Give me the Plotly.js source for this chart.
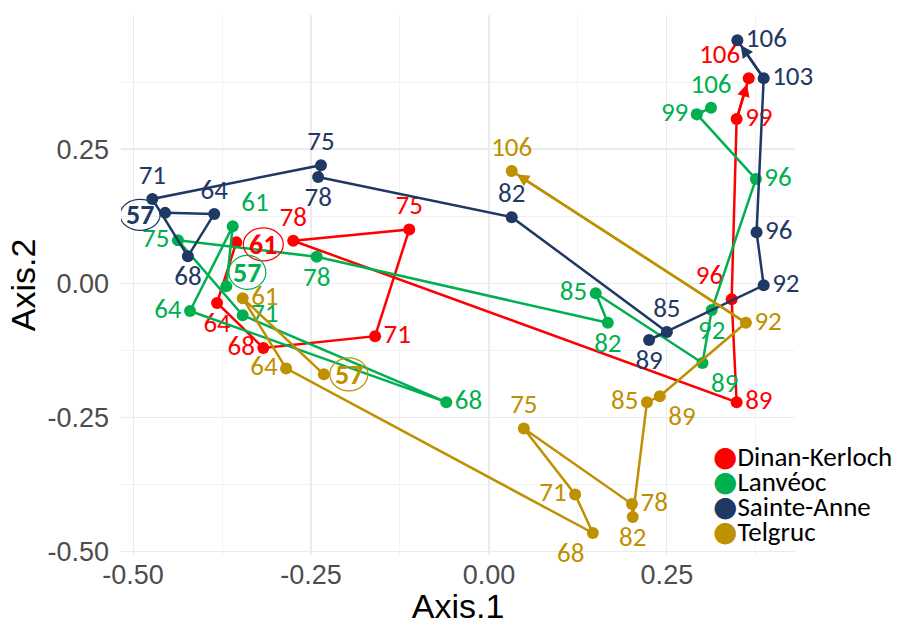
<!DOCTYPE html>
<html><head><meta charset="utf-8">
<script src="https://cdn.plot.ly/plotly-3.0.1.min.js"></script>
<style>html,body{margin:0;padding:0;background:#fff}#chart{width:904px;height:625px}</style>
</head><body><div id="chart"></div>
<script>
// Site names
const sites = ['Dinan-Kerloch', 'Lanvéoc', 'Sainte-Anne', 'Telgruc'];
const colors = ['#ff0000', '#00b050', '#1f3864', '#bf9000'];

// Dinan-Kerloch
const years_DK = ['61','64','68','71','75','78','89','96','99','106'];
const x_DK = [-0.355,-0.382,-0.317,-0.160,-0.112,-0.275,0.348,0.341,0.348,0.365];
const y_DK = [0.076,-0.037,-0.121,-0.099,0.100,0.079,-0.222,-0.030,0.306,0.382];
const pos_DK = ['middle right','bottom center','middle left','middle right','top center','top center','middle right','top left','middle right','top left'];

// Lanvéoc
const years_LA = ['57','61','64','68','71','75','78','82','85','89','92','96','99','106'];
const x_LA = [-0.369,-0.360,-0.420,-0.060,-0.346,-0.437,-0.242,0.167,0.150,0.300,0.313,0.375,0.292,0.312];
const y_LA = [-0.006,0.106,-0.052,-0.222,-0.060,0.080,0.049,-0.074,-0.019,-0.149,-0.050,0.194,0.315,0.327];
const pos_LA = ['middle right','top right','middle left','middle right','middle right','middle left','bottom center','bottom center','middle left','bottom right','bottom center','middle right','middle left','top center'];

// Sainte-Anne
const years_SA = ['57','64','68','71','75','78','82','85','89','92','96','103','106'];
const x_SA = [-0.455,-0.386,-0.423,-0.473,-0.236,-0.240,0.032,0.250,0.225,0.386,0.376,0.386,0.349];
const y_SA = [0.131,0.129,0.050,0.157,0.220,0.198,0.123,-0.091,-0.106,-0.004,0.095,0.382,0.453];
const pos_SA = ['middle left','top center','bottom center','top center','top center','bottom center','top center','top center','bottom center','middle right','middle right','middle right','middle right'];

// Telgruc
const years_TE = ['57','61','64','68','71','75','78','82','85','89','92','106'];
const x_TE = [-0.232,-0.346,-0.285,0.146,0.121,0.049,0.201,0.202,0.222,0.240,0.361,0.032];
const y_TE = [-0.170,-0.028,-0.159,-0.466,-0.394,-0.271,-0.412,-0.436,-0.222,-0.211,-0.074,0.209];
const pos_TE = ['middle right','middle right','middle left','bottom left','middle left','top center','middle right','bottom center','middle left','bottom right','middle right','top center'];

// Axis ticks
const tickVals = [-0.5, -0.25, 0, 0.25];
const tickText = ['-0.50', '-0.25', '0.00', '0.25'];

const series = [
  {years: years_DK, x: x_DK, y: y_DK, pos: pos_DK},
  {years: years_LA, x: x_LA, y: y_LA, pos: pos_LA},
  {years: years_SA, x: x_SA, y: y_SA, pos: pos_SA},
  {years: years_TE, x: x_TE, y: y_TE, pos: pos_TE}
];

// circle label decoration offsets (pixels) for the start point of each site
const circ = [
  {cx: 27, cy: -2, w: 40, h: 33},
  {cx: 21, cy: 14, w: 37, h: 34},
  {cx: -25, cy: -2, w: 40, h: 31},
  {cx: 25, cy: 0, w: 38, h: 33}
];

const labelFont = 'Carlito, Calibri, Lato, sans-serif';
const axisFont = 'Liberation Sans, Arial, sans-serif';
const traces = [];
const annotations = [];
const shapes = [];

series.forEach((s, k) => {
  traces.push({
    type: 'scatter', mode: 'lines+markers+text',
    x: s.x, y: s.y,
    text: s.years.map((t, i) => i === 0 ? '' : t),
    textposition: s.pos,
    textfont: {family: labelFont, size: 27, color: colors[k]},
    line: {color: colors[k], width: 2.5},
    marker: {color: colors[k], size: 12},
    cliponaxis: false, showlegend: false, hoverinfo: 'skip'
  });
  const n = s.x.length;
  // arrow on last segment
  annotations.push({
    x: s.x[n-1], y: s.y[n-1], ax: s.x[n-2], ay: s.y[n-2],
    xref: 'x', yref: 'y', axref: 'x', ayref: 'y',
    text: '', showarrow: true, arrowhead: 2, arrowsize: 1,
    arrowwidth: 2.5, arrowcolor: colors[k], standoff: 6
  });
  // circled start label
  const c = circ[k];
  annotations.push({
    x: s.x[0], y: s.y[0], xref: 'x', yref: 'y',
    text: '<b>' + s.years[0] + '</b>', showarrow: false,
    xshift: c.cx, yshift: c.cy,
    font: {family: labelFont, size: 28, color: colors[k]}
  });
  shapes.push({
    type: 'circle', xref: 'x', yref: 'y',
    xsizemode: 'pixel', ysizemode: 'pixel',
    xanchor: s.x[0], yanchor: s.y[0],
    x0: c.cx - c.w/2, x1: c.cx + c.w/2,
    y0: c.cy - c.h/2, y1: c.cy + c.h/2,
    line: {color: colors[k], width: 1.2}
  });
});

// legend drawn as annotations (marker dot + name)
sites.forEach((name, k) => {
  annotations.push({
    xref: 'paper', yref: 'paper', x: 0.876, y: 0.183 - k * 0.0463,
    xanchor: 'left', yanchor: 'middle', showarrow: false,
    text: '<span style="color:' + colors[k] + ';font-family:DejaVu Sans;font-size:28px">●</span>' + name,
    font: {family: labelFont, size: 27, color: '#000'}
  });
});

const tickFont = {family: axisFont, size: 27, color: '#4d4d4d'};

const layout = {
  width: 904, height: 625,
  margin: {l: 121, r: 109, t: 15, b: 70},
  paper_bgcolor: '#ffffff', plot_bgcolor: '#ffffff',
  font: {family: labelFont},
  showlegend: false,
  xaxis: {
    range: [-0.517, 0.43], tickvals: tickVals, ticktext: tickText,
    showgrid: true, gridcolor: '#ebebeb', gridwidth: 1.2,
    minor: {dtick: 0.125, tick0: 0, showgrid: true, gridcolor: '#f2f2f2', gridwidth: 1},
    zeroline: false, showline: false, ticks: '', tickfont: tickFont,
    ticklabelstandoff: 1,
    title: {text: 'Axis.1', font: {family: axisFont, size: 34, color: '#000'}, standoff: 5}
  },
  yaxis: {
    range: [-0.507, 0.5], tickvals: tickVals, ticktext: tickText,
    showgrid: true, gridcolor: '#ebebeb', gridwidth: 1.2,
    minor: {dtick: 0.125, tick0: 0, showgrid: true, gridcolor: '#f2f2f2', gridwidth: 1},
    zeroline: false, showline: false, ticks: '', tickfont: tickFont,
    ticklabelstandoff: 11,
    title: {text: 'Axis.2', font: {family: axisFont, size: 34, color: '#000'}, standoff: 1}
  },
  annotations: annotations,
  shapes: shapes
};

Plotly.newPlot('chart', traces, layout, {displayModeBar: false, staticPlot: true});
</script>
</body></html>
